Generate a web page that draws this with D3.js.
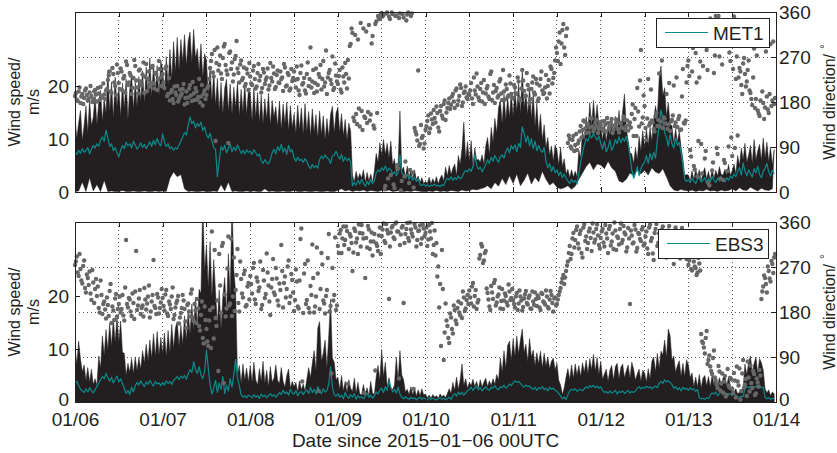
<!DOCTYPE html>
<html>
<head>
<meta charset="utf-8">
<script src="https://cdn.jsdelivr.net/npm/d3@7"></script>
<style>
  body { margin: 0; background: #fff; }
  svg { display: block; }
</style>
</head>
<body>
<svg id="chart" width="837" height="453"></svg>
<script>
// ---- Tick labels ----------------------------------------------------------
const dayLabels = ["01/06", "01/07", "01/08", "01/09", "01/10", "01/11", "01/12", "01/13", "01/14"];
const speedTicks = [0, 10, 20];
const dirTicks = [0, 90, 180, 270, 360];
const stationNames = ["MET1", "EBS3"];

// ---- MET1: 30-min gust envelope (m/s), from 2015-01-06 00UTC --------------
const met1Gust = [
  14.2,10.1,13.1,15.4,9.8,12.6,16.3,11.2,17.4,12.5,14.1,18.3,12.8,16.9,19.2,13.4,17.6,14.9,23.0,15.1,20.8,13.9,21.7,16.2,
  19.9,14.3,20.6,15.8,21.4,13.7,19.5,22.3,15.6,20.9,16.1,21.8,17.2,22.9,16.8,23.6,18.4,25.3,17.9,24.2,19.1,23.9,18.2,24.7,
  23.3,18.6,25.6,20.1,26.9,21.4,28.4,22.7,29.2,23.1,28.8,24.6,29.7,23.9,28.5,30.2,24.4,30.7,25.2,27.1,22.8,28.0,21.6,26.1,
  24.9,18.7,23.6,17.2,22.8,16.4,21.5,15.3,20.7,14.8,19.6,21.3,15.2,20.4,14.7,19.8,15.9,20.9,14.3,19.4,15.1,20.6,14.6,19.2,
  18.6,13.4,19.7,14.1,18.8,13.2,18.3,12.9,17.6,13.8,18.7,12.6,17.3,14.2,16.1,12.4,17.2,11.8,16.6,12.9,17.0,11.6,16.3,12.2,
  14.8,11.1,16.4,11.8,15.9,10.9,16.7,11.4,15.2,10.6,15.7,11.3,14.6,10.2,15.3,10.8,14.4,9.9,13.9,10.5,14.7,16.2,11.2,14.9,
  16.0,11.3,14.8,10.6,13.7,9.8,13.0,11.5,3.2,1.9,3.9,2.4,3.5,2.6,4.2,1.8,3.7,2.1,3.4,1.7,4.0,7.3,5.6,9.3,
  6.9,9.9,7.1,9.2,6.4,9.6,5.1,6.3,3.4,5.2,15.3,4.1,4.7,2.8,4.9,2.6,4.5,2.4,4.2,2.3,3.0,1.8,2.7,1.6,
  2.0,1.6,2.8,1.5,2.5,1.7,2.9,1.5,2.6,3.2,2.1,4.7,3.0,5.0,3.3,4.5,5.3,3.1,6.9,5.2,8.2,13.2,6.1,9.5,
  5.8,9.7,5.1,8.3,6.0,6.2,5.6,7.0,5.2,8.7,10.3,7.1,12.2,9.4,13.9,11.2,15.9,17.3,12.9,18.5,13.6,18.0,14.1,18.8,
  14.2,19.7,15.1,20.5,14.8,23.2,15.9,18.7,14.6,19.9,13.8,18.9,12.4,16.8,11.2,14.7,9.8,12.7,8.4,10.3,6.9,8.7,5.8,8.9,
  7.9,5.1,8.5,4.8,6.3,3.4,4.3,2.7,4.2,2.8,3.9,2.9,7.9,6.4,11.5,9.8,14.2,11.6,16.9,12.4,17.3,13.1,16.5,12.6,
  12.9,9.7,13.2,9.4,12.5,10.9,13.5,10.6,14.3,11.2,15.4,11.4,15.3,18.5,12.1,9.7,7.4,7.2,5.4,8.3,6.1,10.5,7.8,11.6,
  8.4,12.0,8.9,12.2,9.6,13.7,16.3,14.1,21.5,23.8,18.2,19.7,14.3,16.9,12.8,12.5,9.1,12.0,9.4,11.5,8.6,6.2,3.1,3.3,
  3.2,2.1,4.0,2.3,4.3,2.9,4.2,2.0,3.7,4.6,2.4,3.9,2.2,4.4,2.5,4.1,3.0,4.8,3.3,3.2,4.3,3.2,5.2,3.1,
  4.0,5.3,3.4,6.9,5.0,8.3,6.1,9.2,5.6,7.0,8.8,5.4,9.9,6.1,7.8,9.0,5.9,10.2,6.4,9.4,5.7,8.5,5.1,8.0
];

// MET1: hourly lull envelope (m/s)
const met1Lull = [
  0.1,0.2,1.9,0.1,2.7,0.2,1.4,0.1,2.2,0.1,0.2,0.1,0.1,0.3,0.1,0.1,0.2,0.1,0.1,0.2,0.1,0.1,0.2,0.1,
  0.2,0.1,2.6,3.8,2.9,3.3,0.6,0.1,0.2,0.1,0.1,0.2,0.1,0.1,0.2,0.1,1.4,0.2,1.9,0.1,0.2,0.1,0.1,0.2,
  0.1,0.2,0.1,0.1,0.6,0.1,0.2,0.1,0.1,0.2,0.1,0.1,0.3,0.1,0.1,0.2,0.1,0.1,0.2,0.1,0.1,0.2,0.1,0.1,
  0.3,0.6,0.2,0.4,0.1,0.3,0.2,0.4,0.1,0.3,0.2,0.1,0.3,0.2,0.4,0.1,0.2,0.3,0.1,0.2,0.1,0.3,0.2,0.1,
  0.1,0.2,0.1,0.3,0.1,0.2,0.1,0.3,0.2,0.1,0.4,0.2,0.3,0.5,0.4,0.6,0.8,1.2,0.6,1.8,1.1,2.6,1.4,3.1,
  1.6,3.4,1.2,2.2,3.6,1.5,2.8,1.9,3.9,2.4,1.3,1.8,0.9,0.6,0.8,1.2,0.5,1.1,2.4,3.6,4.8,5.6,4.2,5.3,
  5.1,4.4,5.8,4.6,3.9,2.1,1.8,2.4,3.6,3.1,4.2,3.4,4.1,3.2,4.6,3.8,3.5,4.4,2.9,1.2,0.4,0.2,0.5,0.3,
  0.2,0.4,0.1,0.3,0.2,0.5,0.2,0.3,0.1,0.4,0.2,0.3,0.6,0.2,0.8,0.4,0.3,0.9,0.5,0.2,0.7,0.4,0.3,0.6
];

// MET1: 30-min mean wind speed (m/s)
const met1Mean = [
  7.6,7.1,7.9,7.3,8.2,7.5,7.8,8.4,7.2,8.1,8.8,8.3,9.1,8.6,9.8,10.4,9.6,11.7,10.2,8.6,9.1,7.8,8.4,7.4,
  6.6,7.9,8.8,8.2,9.4,8.7,9.1,8.3,9.6,8.9,8.1,8.6,9.3,8.4,9.0,8.2,8.8,9.5,8.6,9.8,8.9,10.1,9.2,8.7,
  11.0,9.4,8.6,9.1,8.2,8.5,7.9,8.4,8.1,8.9,9.6,10.4,11.2,10.8,12.6,14.2,12.9,13.4,12.1,13.0,12.4,13.2,11.6,12.3,
  10.8,10.2,11.1,9.6,8.4,8.0,2.9,5.8,8.6,7.9,8.8,7.4,8.2,9.1,7.6,8.5,7.8,8.9,8.1,7.3,7.9,7.2,8.0,7.5,
  7.7,7.1,8.0,7.4,6.8,7.2,5.9,5.4,6.1,5.6,5.3,6.2,7.4,8.1,7.2,8.6,7.8,9.0,7.5,8.3,7.1,8.8,7.6,8.0,
  6.4,5.8,6.6,5.9,6.2,5.6,6.3,5.7,4.9,4.4,5.2,4.6,5.0,4.5,6.1,6.8,6.3,7.0,6.5,6.2,5.4,6.8,7.0,7.7,
  6.9,6.2,7.1,5.8,6.6,5.9,6.4,5.6,1.2,1.8,1.3,2.2,1.5,2.4,1.7,1.1,2.0,1.4,2.3,1.6,2.1,3.6,4.2,3.8,
  4.6,4.1,4.9,3.9,4.5,4.2,3.4,3.8,3.1,3.7,7.0,3.6,3.2,2.6,3.4,2.4,3.1,2.2,2.8,2.0,2.5,1.4,1.2,1.5,
  1.1,1.4,1.0,1.3,1.2,1.5,1.1,1.3,1.0,1.4,1.2,2.1,2.6,2.3,2.9,2.2,2.7,2.4,3.0,2.5,2.8,3.6,4.1,3.8,
  4.4,3.9,4.8,7.0,5.1,4.3,4.7,3.8,4.5,5.2,6.1,5.4,6.6,5.8,6.9,6.2,5.6,6.7,7.0,6.4,7.6,8.3,7.4,8.8,
  8.1,8.9,7.6,9.2,8.4,12.3,11.1,9.4,10.6,8.7,10.1,8.2,9.6,7.8,8.8,7.9,7.5,8.4,5.8,4.6,5.4,3.9,4.8,3.6,
  4.2,3.1,3.8,2.7,3.4,2.6,2.1,1.6,2.4,1.8,2.2,1.5,3.4,5.6,7.4,8.9,10.1,9.6,10.8,10.2,11.1,10.4,9.8,10.6,
  9.2,8.1,9.6,7.6,8.4,9.8,7.9,8.6,9.9,9.1,10.4,9.3,10.2,9.6,10.5,9.2,6.8,4.2,2.6,3.5,4.8,3.1,4.4,5.2,
  5.6,6.9,5.4,7.3,6.1,7.5,6.4,9.8,12.6,15.5,13.8,11.2,10.4,8.6,10.9,9.1,8.3,10.2,8.8,9.4,7.6,5.1,2.4,2.0,
  2.3,1.8,2.6,2.1,1.6,2.4,2.8,1.9,2.2,2.7,1.7,2.5,2.0,2.9,2.3,1.8,2.6,2.1,2.8,2.4,1.9,2.7,2.2,3.0,
  2.6,3.4,2.9,3.8,4.6,3.2,5.5,3.9,3.1,4.2,3.5,2.8,4.4,3.6,4.9,3.3,2.7,3.9,4.5,5.4,3.8,3.0,4.1,3.4
];

// MET1: wind direction (degrees) on the hour and half hour
const met1Dir = [
  192,185,201,178,196,188,207,183,199,192,186,204,181,197,210,189,195,203,224,241,198,236,212,255,
  218,247,203,232,261,214,238,196,228,252,209,243,221,235,198,256,226,211,249,217,238,204,262,229,
  236,208,251,196,183,204,178,199,212,187,193,206,175,201,189,214,182,197,208,185,226,191,173,203,
  194,212,248,276,231,102,289,254,237,268,296,243,98,281,259,235,272,247,219,263,228,211,246,204,
  231,214,252,207,238,223,199,246,216,229,205,258,221,237,210,243,218,226,202,249,213,234,207,222,
  241,209,226,194,253,218,203,236,212,289,221,198,247,214,230,205,262,219,196,238,224,271,208,233,
  216,244,199,231,258,207,227,296,318,142,156,305,131,162,327,148,138,334,155,312,127,341,352,346,
  358,354,12,359,351,34,356,8,353,47,357,22,349,61,355,18,352,39,128,115,243,96,108,87,
  124,142,118,157,136,148,171,129,162,153,176,144,168,187,174,196,168,207,183,215,172,198,211,186,
  194,218,176,203,237,189,206,181,224,197,212,186,241,199,178,208,193,226,184,201,215,190,233,196,
  188,209,197,221,183,244,202,192,214,178,206,231,195,217,187,226,203,198,234,212,197,246,228,263,
  278,301,256,324,289,312,98,106,87,112,94,84,103,132,124,141,118,136,129,147,122,138,131,126,
  134,127,142,121,138,131,146,125,133,140,119,137,128,144,132,123,139,156,112,168,208,131,284,149,
  172,104,226,138,143,126,151,132,237,141,128,147,196,135,122,144,213,139,130,152,125,246,137,219,
  263,84,241,52,278,31,229,96,252,67,284,18,347,43,238,352,76,271,339,24,58,344,91,262,
  72,351,226,113,248,214,257,236,221,263,198,174,287,186,163,152,294,178,169,191,158,296,183,176
];

// MET1: wind direction (degrees) at quarter past / quarter to
const met1DirQ = [
  198,182,209,191,176,203,194,187,212,180,201,195,208,184,192,217,186,206,233,201,248,219,194,238,
  206,241,227,199,254,219,233,208,264,223,197,245,213,259,230,202,241,218,252,207,236,225,246,212,
  219,247,192,228,199,186,211,194,181,205,197,216,188,178,207,193,220,184,201,190,179,214,196,186,
  208,226,262,239,284,258,243,273,226,291,254,235,278,246,221,266,302,238,255,224,249,216,237,258,
  217,243,226,211,256,232,208,239,224,247,213,228,251,206,234,219,241,229,256,211,238,203,246,228,
  224,251,203,238,215,228,197,259,226,209,244,218,201,236,254,226,211,283,229,244,216,204,257,221,
  232,205,249,219,236,264,292,327,149,314,136,167,338,124,151,321,160,143,297,133,336,158,347,355,
  351,6,357,27,346,359,15,352,54,348,3,356,31,343,359,44,357,9,121,103,92,134,112,97,
  131,153,127,145,164,139,158,121,172,147,183,159,178,166,191,181,203,174,192,208,179,201,189,196,
  203,187,229,195,211,183,218,199,176,207,191,236,184,214,202,189,221,197,244,185,206,193,217,188,
  214,196,229,187,207,223,191,238,205,186,219,199,226,182,213,241,196,209,187,224,251,217,238,289,
  262,319,297,336,274,327,113,91,104,82,116,97,121,109,143,127,135,119,148,131,126,144,118,139,
  141,122,135,148,127,139,118,133,145,126,138,129,151,124,143,134,129,175,146,112,161,223,137,193,
  128,147,133,205,139,121,158,144,131,263,149,137,126,218,141,153,132,229,146,124,191,138,143,252,
  232,71,288,45,219,102,261,37,297,82,244,13,336,59,273,88,352,27,255,64,318,42,279,109,
  246,88,271,229,241,196,268,211,244,203,186,229,168,273,157,183,201,146,281,165,196,172,301,188
];

// ---- EBS3 -----------------------------------------------------------------
const ebs3Gust = [
  10.4,7.2,11.5,8.1,5.7,7.0,4.1,6.5,3.8,6.2,3.3,4.4,3.1,8.7,6.4,12.5,8.9,13.7,9.8,14.9,10.6,15.7,11.3,16.2,
  11.2,15.3,9.4,9.2,5.1,7.3,5.6,8.2,5.4,8.5,5.9,8.4,6.2,9.7,7.4,10.9,7.8,11.7,8.3,12.9,8.6,13.3,8.9,12.2,
  9.1,13.0,8.6,13.5,9.4,14.7,10.1,14.0,15.2,10.6,14.5,10.9,16.3,11.7,17.4,12.8,18.5,13.6,19.8,14.2,21.3,20.5,38.0,24.7,
  29.7,21.6,30.3,19.8,26.9,20.8,14.6,21.2,13.9,19.9,23.5,16.8,28.0,19.7,38.0,25.0,20.7,5.2,6.9,3.6,7.2,4.1,6.4,3.8,
  6.9,3.8,7.5,4.2,3.2,6.3,3.9,7.7,3.6,6.0,2.9,6.7,3.8,4.5,7.0,4.1,3.5,6.5,3.9,2.8,5.0,6.2,2.6,3.9,
  2.9,3.7,1.9,4.0,2.3,3.4,2.1,4.3,6.5,4.6,7.3,9.7,5.9,14.0,15.2,7.8,9.2,11.7,6.4,12.5,19.4,8.3,7.5,4.2,
  4.7,2.4,5.0,2.1,3.9,1.8,4.2,2.6,2.0,4.5,1.7,3.7,1.5,1.3,3.3,1.5,2.7,1.1,3.9,1.6,1.5,4.8,6.9,4.1,
  9.9,4.8,7.5,2.9,4.6,2.8,2.3,3.2,8.5,4.1,9.7,5.1,4.2,1.9,2.4,1.4,2.9,1.3,2.6,1.1,2.3,1.2,2.5,1.3,
  1.5,0.8,1.3,0.7,1.4,0.9,1.2,0.7,1.5,1.0,1.3,0.8,1.6,2.5,1.6,3.7,2.2,4.7,2.4,4.2,7.2,3.1,4.4,2.6,
  3.7,3.1,4.3,2.9,3.9,2.5,4.2,2.8,3.8,4.5,2.9,4.0,3.1,4.4,3.3,5.2,4.1,8.3,5.6,9.7,6.4,10.7,11.5,7.9,
  11.9,8.6,12.5,9.1,11.7,13.8,9.4,10.9,7.6,12.0,8.5,9.8,6.9,9.3,7.2,9.6,6.4,9.2,6.8,8.5,6.3,7.7,8.3,6.1,
  7.3,4.1,3.2,1.4,2.7,4.7,6.3,4.2,7.0,4.5,7.2,5.1,6.9,4.8,7.4,5.6,7.9,5.4,8.2,6.1,9.0,5.8,8.4,5.2,
  7.7,4.3,5.3,6.2,3.9,6.0,6.9,4.1,6.7,7.3,4.4,6.5,7.2,4.6,5.9,7.0,4.5,7.5,6.2,4.1,5.3,6.2,3.9,6.0,
  5.5,3.8,6.3,4.4,7.7,8.5,5.7,9.2,6.4,9.6,8.9,11.7,8.4,13.8,12.5,7.9,8.7,5.6,6.9,7.8,4.9,7.3,4.8,8.0,
  7.0,4.6,5.5,2.9,4.7,2.9,5.2,2.7,4.5,5.0,3.1,4.8,2.9,5.1,3.2,4.9,3.0,4.6,3.3,4.5,5.2,3.0,4.8,3.1,
  2.2,1.9,2.5,1.5,1.9,1.6,2.7,7.2,5.1,7.5,8.7,5.6,7.3,8.5,5.4,8.2,7.4,6.0,2.5,1.7,2.3,1.2,1.9,1.5
];

const ebs3Mean = [
  3.4,3.9,3.1,2.4,2.1,1.8,2.5,1.9,2.7,2.2,1.7,2.3,2.9,3.6,4.2,4.8,4.4,5.4,4.6,3.9,4.7,3.6,4.3,4.9,
  3.8,4.4,3.5,2.6,1.6,2.2,1.4,2.8,1.9,3.1,3.7,3.2,4.0,3.4,2.9,3.8,3.3,4.1,3.5,3.0,3.9,3.4,3.6,3.1,
  3.7,3.2,4.0,3.5,3.9,3.3,4.1,4.4,4.8,4.2,4.9,4.5,5.0,4.3,5.3,6.1,5.6,7.6,6.2,5.4,6.7,5.1,4.4,5.8,
  9.8,6.4,3.2,1.5,2.6,4.1,1.8,3.6,2.4,4.8,1.6,3.2,2.1,4.4,2.8,5.2,8.0,4.6,3.1,1.4,0.9,1.2,0.8,1.3,
  1.1,0.8,1.4,0.9,1.2,0.7,1.5,1.0,1.3,0.8,1.2,1.6,1.1,1.4,0.9,1.3,1.8,1.4,2.2,1.6,1.9,1.3,2.4,1.7,
  1.5,2.1,1.2,1.8,2.0,1.4,1.9,2.3,1.6,2.8,1.8,2.4,1.5,2.9,2.0,1.6,2.5,1.9,2.2,3.4,6.7,2.8,1.4,1.1,
  1.6,0.9,1.3,0.6,1.8,1.1,0.7,1.4,0.9,1.6,0.5,1.2,0.8,1.0,0.6,1.1,1.7,0.9,1.3,0.7,1.2,1.9,1.5,2.2,
  2.6,1.8,2.9,2.2,3.9,2.7,1.9,2.4,1.7,2.8,1.5,0.9,0.6,1.0,0.7,0.5,0.9,0.6,0.8,0.4,0.7,0.9,0.5,0.8,
  0.6,0.4,0.8,0.5,0.7,0.5,0.4,0.6,0.8,0.5,0.7,0.4,0.6,0.9,0.5,1.2,1.6,1.1,1.9,1.4,1.8,1.3,1.7,2.1,
  2.4,2.8,2.2,2.6,3.0,2.3,2.7,2.1,2.5,2.9,2.4,2.2,2.8,2.6,3.1,2.5,2.3,2.9,2.7,3.2,2.6,2.9,3.4,3.1,
  3.6,4.0,3.7,3.9,3.5,3.1,2.8,3.2,2.9,3.0,2.6,2.4,2.8,2.2,2.7,2.5,2.9,2.3,2.6,2.1,2.8,2.4,2.6,2.2,
  2.0,1.6,1.1,0.6,0.9,0.5,1.3,2.1,2.4,2.2,2.5,2.0,2.3,2.4,2.1,2.5,2.9,2.6,3.1,2.8,3.2,2.7,3.0,2.6,
  2.9,2.2,1.8,2.0,1.6,2.1,1.7,1.9,2.2,1.5,2.0,1.8,2.1,1.6,1.9,2.2,1.7,2.0,1.8,2.1,2.6,2.9,2.5,2.8,
  2.6,3.0,2.7,2.9,2.5,2.8,3.0,2.7,3.6,3.9,3.5,4.2,3.8,4.0,3.7,3.3,2.6,2.9,2.3,2.7,2.1,2.8,2.4,2.6,
  2.2,2.7,2.3,2.5,2.0,2.4,0.8,0.6,0.7,0.5,0.8,0.6,1.3,1.7,1.5,1.9,1.2,1.6,2.0,1.4,1.8,1.3,1.6,1.5,
  1.2,1.6,1.3,1.0,0.9,1.1,1.0,2.6,2.9,2.7,3.0,2.5,2.8,3.0,2.6,2.9,2.7,2.8,0.9,0.6,0.8,0.5,0.7,0.6
];

const ebs3Dir = [
  274,291,252,266,237,283,219,248,261,204,239,226,212,188,243,176,201,167,194,222,158,183,207,171,
  196,179,214,163,324,189,205,172,198,221,184,207,176,193,228,185,211,169,201,284,188,216,177,199,
  208,183,224,172,195,211,166,189,203,157,178,214,186,148,197,171,225,162,183,206,152,174,128,191,
  146,112,184,341,127,168,203,296,178,318,215,187,331,197,172,289,224,306,181,246,209,263,194,238,
  252,217,278,196,241,229,186,264,208,297,233,174,246,219,268,203,237,314,189,251,226,283,211,244,
  182,265,191,243,347,178,276,204,188,232,315,179,211,257,186,298,203,177,224,336,192,268,214,184,
  312,337,298,351,324,342,306,331,262,347,319,296,338,354,327,248,309,345,321,293,336,317,302,349,
  332,357,318,344,206,339,352,326,359,341,314,349,198,336,358,322,345,331,356,311,342,353,327,347,
  338,312,354,327,296,343,318,271,236,304,84,197,152,118,169,137,184,156,201,173,168,209,187,214,
  223,197,238,212,186,204,294,311,283,302,218,191,232,206,244,199,215,187,226,203,212,193,221,208,
  204,189,218,197,211,183,207,222,195,213,186,201,219,192,208,184,216,199,223,190,205,214,181,209,
  196,214,228,247,236,262,281,312,296,338,324,351,307,343,289,356,331,318,347,302,339,325,355,314,
  328,346,311,337,298,352,321,306,343,331,315,357,324,339,301,348,196,333,319,345,308,336,322,350,
  317,341,296,355,328,284,346,312,337,303,351,325,289,343,318,334,276,349,307,331,296,342,319,286,
  274,298,263,281,268,259,277,136,118,97,142,84,71,56,103,43,28,61,37,19,52,14,33,48,
  26,58,9,41,67,22,84,35,12,49,73,28,56,17,39,64,206,231,248,219,262,241,276,289
];

const ebs3DirQ = [
  281,259,296,243,272,228,255,234,217,264,198,246,231,179,214,196,185,209,172,236,191,164,216,186,
  211,186,173,229,196,208,181,217,166,302,193,224,188,171,205,197,233,181,214,192,176,209,188,226,
  192,215,177,201,186,229,174,198,212,169,188,203,161,194,181,217,169,196,158,187,143,201,117,164,
  121,163,108,189,304,152,62,233,312,38,171,267,193,327,211,182,254,198,281,217,256,191,231,205,
  236,268,205,249,222,281,194,243,216,259,201,229,286,214,247,193,224,262,238,209,271,198,256,219,
  204,241,187,326,41,257,196,283,179,214,248,191,309,22,226,275,197,212,288,181,57,203,329,193,
  298,344,327,314,351,36,336,318,299,342,327,355,311,337,18,328,352,306,339,321,63,312,333,296,
  345,322,356,337,311,349,329,357,341,47,335,352,318,346,328,359,337,26,349,324,343,316,355,332,
  349,325,341,358,314,293,251,189,112,226,139,163,128,177,146,193,163,188,179,197,221,182,204,196,
  209,231,191,224,199,287,316,278,298,227,205,184,219,238,193,211,229,202,186,217,199,235,204,226,
  196,211,184,223,203,190,215,198,208,187,221,194,206,213,189,218,201,195,211,187,222,198,207,193,
  205,221,239,254,249,273,298,286,327,309,344,317,336,298,349,322,306,341,328,357,319,346,333,307,
  341,319,354,327,346,313,337,359,304,328,346,318,352,335,309,327,343,317,354,301,338,326,345,313,
  331,307,349,322,297,338,356,318,329,345,293,337,314,352,327,301,343,319,336,287,348,311,328,302,
  283,266,291,271,254,288,263,121,109,128,76,93,62,88,49,35,72,23,57,41,11,66,29,45,
  18,43,71,33,5,57,29,46,81,21,38,62,14,47,31,53,221,253,236,271,247,282,258,296
];

// ---- Layout & style --------------------------------------------------------
const W = 837, H = 453;
const X0 = 75, X1 = 776;
const FONT = '"Liberation Sans", Arial, Helvetica, sans-serif';
const INK = "#231f20";
const TEAL = "#0b8a8c";
const GREY = "#676767";
const STEP_H = 0.5;        // hours between samples
const SPAN_H = 192;        // eight days

const svg = d3.select("#chart");
svg.append("rect").attr("width", W).attr("height", H).attr("fill", "#fff");

const t0 = Date.UTC(2015, 0, 6);
const at = h => new Date(t0 + h * 3600e3);
const x = d3.scaleUtc().domain([at(0), at(SPAN_H)]).range([X0, X1]);
const halfDays = d3.range(0, SPAN_H + 1, 12).map(at);

const panels = [
  { name: stationNames[0], top: 12, bottom: 192, gust: met1Gust, lull: met1Lull,
    mean: met1Mean, dir: met1Dir, dirQ: met1DirQ, legend: { x: 656, y: 18, w: 113, h: 29 }, dates: false },
  { name: stationNames[1], top: 222, bottom: 402, gust: ebs3Gust, lull: null,
    mean: ebs3Mean, dir: ebs3Dir, dirQ: ebs3DirQ, legend: { x: 658, y: 229, w: 110, h: 29 }, dates: true }
];

function styleAxis(g, size) {
  g.attr("font-family", FONT).attr("font-size", size);
  g.select(".domain").remove();
  g.selectAll(".tick line").attr("stroke", INK).attr("stroke-width", 1).attr("shape-rendering", "crispEdges");
  g.selectAll(".tick text").attr("fill", INK);
}

panels.forEach((p, k) => {
  const ySpd = d3.scaleLinear().domain([0, 34]).range([p.bottom, p.top]);
  const yDir = d3.scaleLinear().domain([0, 360]).range([p.bottom, p.top]);
  const g = svg.append("g");
  const clipId = "plot-clip-" + k;
  svg.append("clipPath").attr("id", clipId).append("rect")
    .attr("x", X0).attr("y", p.top).attr("width", X1 - X0).attr("height", p.bottom - p.top);

  // dotted grid: every 12 h, and the direction ticks
  const grid = g.append("g").attr("stroke", "#4a4a4a").attr("stroke-width", 0.9)
    .attr("stroke-dasharray", "1,3").attr("shape-rendering", "crispEdges");
  grid.selectAll("line.v").data(halfDays.slice(1, -1)).join("line").attr("class", "v")
    .attr("x1", d => x(d)).attr("x2", d => x(d)).attr("y1", p.top).attr("y2", p.bottom);
  grid.selectAll("line.h").data(dirTicks.slice(1, -1)).join("line").attr("class", "h")
    .attr("x1", X0).attr("x2", X1).attr("y1", d => yDir(d)).attr("y2", d => yDir(d));

  // wind speed band: gust envelope above, lull envelope (or zero) below
  const upper = p.gust.map((v, i) => [i * STEP_H, v]);
  const lower = p.lull ? p.lull.map((v, h) => [h, v])
                       : [[0, 0], [(p.gust.length - 1) * STEP_H, 0]];
  const band = upper.concat(lower.slice().reverse());
  const bandLine = d3.line().x(d => x(at(d[0]))).y(d => ySpd(d[1]));
  g.append("path").attr("d", bandLine(band) + "Z")
    .attr("fill", INK).attr("stroke", INK).attr("stroke-width", 0.5)
    .attr("stroke-linejoin", "miter").attr("clip-path", `url(#${clipId})`);

  // mean wind speed
  g.append("path").datum(p.mean)
    .attr("d", d3.line().x((d, i) => x(at(i * STEP_H))).y(d => ySpd(d)))
    .attr("fill", "none").attr("stroke", TEAL).attr("stroke-width", 1.2)
    .attr("stroke-linejoin", "round").attr("clip-path", `url(#${clipId})`);

  // wind direction: on-the-hour/half-hour samples and the quarter-hour ones
  const dirPts = p.dir.map((d, i) => [i * STEP_H, d])
    .concat(p.dirQ.map((d, i) => [i * STEP_H + STEP_H / 2, d]));
  g.append("g").selectAll("circle").data(dirPts).join("circle")
    .attr("cx", d => x(at(d[0]))).attr("cy", d => yDir(d[1]))
    .attr("r", 2.2).attr("fill", GREY);

  // axes with inward ticks
  const xb = g.append("g").attr("transform", `translate(0,${p.bottom})`)
    .call(d3.axisBottom(x).tickValues(halfDays).tickSize(-5).tickPadding(11)
      .tickFormat(d => {
        const h = (d - at(0)) / 3600e3;
        return p.dates && h % 24 === 0 ? dayLabels[h / 24] : "";
      }));
  styleAxis(xb, 19);
  const xt = g.append("g").attr("transform", `translate(0,${p.top})`)
    .call(d3.axisTop(x).tickValues(halfDays).tickSize(-5).tickFormat(""));
  styleAxis(xt, 19);
  const yl = g.append("g").attr("transform", `translate(${X0},0)`)
    .call(d3.axisLeft(ySpd).tickValues(speedTicks).tickSize(-5).tickPadding(6));
  styleAxis(yl, 19);
  const yr = g.append("g").attr("transform", `translate(${X1},0)`)
    .call(d3.axisRight(yDir).tickValues(dirTicks).tickSize(-5).tickPadding(3));
  styleAxis(yr, 19);
  if (p.dates) {
    // lift the zero labels a touch so they clear the date labels below
    yl.selectAll(".tick text").filter(d => d === 0).attr("dy", "0.2em");
    yr.selectAll(".tick text").filter(d => d === 0).attr("dy", "0.2em");
  }

  // frame
  g.append("rect").attr("x", X0).attr("y", p.top).attr("width", X1 - X0).attr("height", p.bottom - p.top)
    .attr("fill", "none").attr("stroke", INK).attr("stroke-width", 1).attr("shape-rendering", "crispEdges");

  // axis titles
  const cy = (p.top + p.bottom) / 2;
  g.append("text").attr("transform", `translate(20,${cy}) rotate(-90)`)
    .attr("text-anchor", "middle").attr("font-family", FONT).attr("font-size", 16).attr("fill", INK)
    .text("Wind speed/");
  g.append("text").attr("transform", `translate(39,${cy}) rotate(-90)`)
    .attr("text-anchor", "middle").attr("font-family", FONT).attr("font-size", 16).attr("fill", INK)
    .text("m/s");
  const rt = g.append("text").attr("transform", `translate(835,${cy}) rotate(-90)`)
    .attr("text-anchor", "middle").attr("font-family", FONT).attr("font-size", 16).attr("fill", INK);
  rt.append("tspan").text("Wind direction/");
  rt.append("tspan").attr("dx", 5).attr("dy", -6).attr("font-size", 12).text("°");

  // legend
  const L = p.legend;
  const lg = g.append("g");
  lg.append("rect").attr("x", L.x).attr("y", L.y).attr("width", L.w).attr("height", L.h)
    .attr("fill", "#fff").attr("stroke", INK).attr("stroke-width", 1).attr("shape-rendering", "crispEdges");
  lg.append("line").attr("x1", L.x + 9).attr("x2", L.x + 52)
    .attr("y1", L.y + L.h / 2).attr("y2", L.y + L.h / 2)
    .attr("stroke", TEAL).attr("stroke-width", 1.2);
  lg.append("text").attr("x", L.x + 57).attr("y", L.y + L.h / 2 + 7)
    .attr("font-family", FONT).attr("font-size", 19).attr("fill", INK).text(p.name);
});

svg.append("text").attr("x", (X0 + X1) / 2).attr("y", 447)
  .attr("text-anchor", "middle").attr("font-family", FONT).attr("font-size", 19).attr("fill", INK)
  .text("Date since 2015\u221201\u221206 00UTC");
</script>
</body>
</html>
